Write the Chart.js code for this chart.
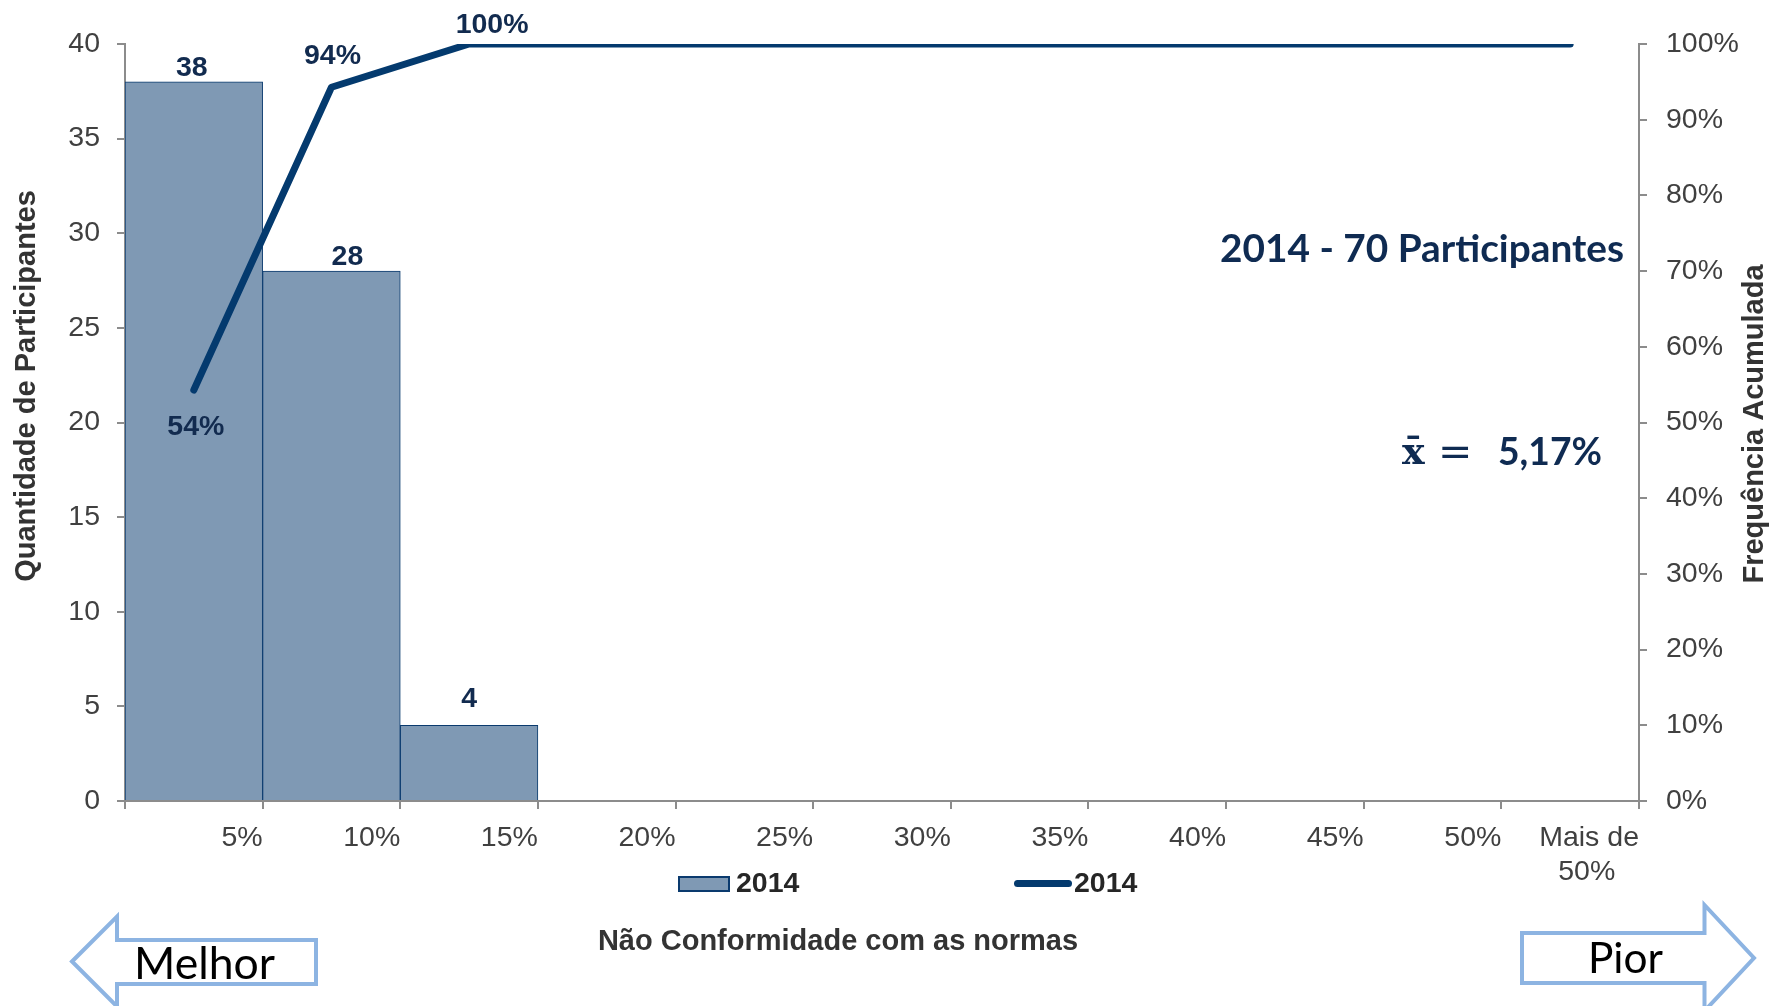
<!DOCTYPE html>
<html>
<head>
<meta charset="utf-8">
<script src="https://cdn.jsdelivr.net/npm/chart.js@4.4.1/dist/chart.umd.min.js"></script>
<style>
  html, body { margin: 0; padding: 0; background: #fff; }
  canvas { display: block; }
</style>
</head>
<body>
<canvas id="histChart" width="1781" height="1006"></canvas>
<script>
// bins of non-conformity (upper bound of each class)
const binLabels = ['5%', '10%', '15%', '20%', '25%', '30%', '35%', '40%', '45%', '50%', ['Mais de', '50%   ']];
const counts = [38, 28, 4, 0, 0, 0, 0, 0, 0, 0, 0];
const cumulative = [54.29, 94.29, 100, 100, 100, 100, 100, 100, 100, 100, 100];
const seriesName = '2014';

// label nudges (px) as Excel placed them
const barLabelShift = [[-2, -6], [16, -6], [0, -18]];
const lineLabelShift = [[2, 45], [1, -23], [23, -11]];

const SANS = "'Liberation Sans', Arial, sans-serif";
const CAL = "Lato, 'Open Sans', sans-serif";
const navy = '#0a3a6e';
const labelNavy = '#122b4f';
const axisGray = '#8c8c8c';
const tickFont = { family: SANS, size: 28.5 };

function fitSize(ctx, text, weight, family, width) {
  ctx.font = weight + ' 100px ' + family;
  return 100 * width / ctx.measureText(text).width;
}

function drawArrow(ctx, pts) {
  ctx.beginPath();
  pts.forEach(([x, y], i) => i ? ctx.lineTo(x, y) : ctx.moveTo(x, y));
  ctx.closePath();
  ctx.fillStyle = '#fff';
  ctx.fill();
  ctx.stroke();
}

const extras = {
  id: 'extras',
  afterDatasetsDraw(chart) {
    const ctx = chart.ctx;
    ctx.save();
    ctx.font = 'bold 28.5px ' + SANS;
    ctx.fillStyle = labelNavy;
    ctx.textAlign = 'center';
    ctx.textBaseline = 'alphabetic';
    const bars = chart.getDatasetMeta(0).data;
    counts.forEach((v, i) => {
      if (!v) return;
      const [dx, dy] = barLabelShift[i];
      ctx.fillText(String(v), bars[i].x + dx, bars[i].y + dy);
    });
    const pts = chart.getDatasetMeta(1).data;
    lineLabelShift.forEach(([dx, dy], i) => {
      ctx.fillText(Math.round(cumulative[i]) + '%', pts[i].x + dx, pts[i].y + dy);
    });
    ctx.restore();
  },
  afterDraw(chart) {
    const ctx = chart.ctx;
    const ds = chart.data.datasets;
    ctx.save();

    // axis titles
    ctx.font = 'bold 29px ' + SANS;
    ctx.fillStyle = '#333';
    ctx.textAlign = 'center';
    ctx.save();
    ctx.translate(34.5, 386);
    ctx.rotate(-Math.PI / 2);
    ctx.fillText('Quantidade de Participantes', 0, 0);
    ctx.restore();
    ctx.save();
    ctx.translate(1763, 424);
    ctx.rotate(-Math.PI / 2);
    ctx.fillText('Frequência Acumulada', 0, 0);
    ctx.restore();
    ctx.fillText('Não Conformidade com as normas', 838, 950);

    // legend
    ctx.fillStyle = ds[0].backgroundColor;
    ctx.fillRect(679, 877, 50, 14);
    ctx.strokeStyle = ds[0].borderColor;
    ctx.lineWidth = 2;
    ctx.strokeRect(679, 877, 50, 14);
    ctx.strokeStyle = ds[1].borderColor;
    ctx.lineWidth = 7;
    ctx.lineCap = 'round';
    ctx.beginPath();
    ctx.moveTo(1017.5, 883.5);
    ctx.lineTo(1068.5, 883.5);
    ctx.stroke();
    ctx.fillStyle = '#262626';
    ctx.font = 'bold 28.5px ' + SANS;
    ctx.textAlign = 'left';
    ctx.fillText(ds[0].label, 736, 891.5);
    ctx.fillText(ds[1].label, 1074, 891.5);

    // notes
    ctx.fillStyle = '#0f2b52';
    ctx.textAlign = 'right';
    let s = fitSize(ctx, '2014 - 70 Participantes', 'bold', CAL, 404);
    ctx.font = 'bold ' + s + 'px ' + CAL;
    ctx.fillText('2014 - 70 Participantes', 1624, 262);
    ctx.textAlign = 'left';
    ctx.font = "bold 38px 'DejaVu Serif'";
    ctx.fillText('x\u0304', 1402, 464);
    ctx.font = "41px 'DejaVu Serif'";
    ctx.fillText('=', 1438, 465);
    s = fitSize(ctx, '5,17%', 'bold', CAL, 104);
    ctx.font = 'bold ' + s + 'px ' + CAL;
    ctx.fillText('5,17%', 1498, 465);

    // Melhor / Pior arrows
    ctx.strokeStyle = '#8db4e2';
    ctx.lineWidth = 4;
    ctx.lineCap = 'butt';
    ctx.lineJoin = 'miter';
    drawArrow(ctx, [[72, 961.5], [117, 916.5], [117, 940], [316, 940], [316, 984], [117, 984], [117, 1006.5]]);
    drawArrow(ctx, [[1522, 933], [1704.5, 933], [1704.5, 905], [1754, 958], [1704.5, 1011], [1704.5, 983], [1522, 983]]);
    ctx.fillStyle = '#000';
    s = fitSize(ctx, 'Melhor', 'normal', CAL, 141);
    ctx.font = s + 'px ' + CAL;
    ctx.fillText('Melhor', 134, 979);
    s = fitSize(ctx, 'Pior', 'normal', CAL, 75);
    ctx.font = s + 'px ' + CAL;
    ctx.fillText('Pior', 1588, 973);

    ctx.restore();
  }
};

new Chart(document.getElementById('histChart'), {
  type: 'bar',
  data: {
    labels: binLabels,
    datasets: [{
      type: 'bar',
      label: seriesName,
      data: counts,
      yAxisID: 'y',
      backgroundColor: '#7f99b4',
      borderColor: navy,
      borderWidth: 1,
      barPercentage: 1,
      categoryPercentage: 1,
      order: 2
    }, {
      type: 'line',
      label: seriesName,
      data: cumulative,
      yAxisID: 'y1',
      borderColor: '#043a6e',
      borderWidth: 7,
      pointRadius: 0,
      borderCapStyle: 'round',
      borderJoinStyle: 'round',
      tension: 0,
      clip: 0,
      order: 1
    }]
  },
  options: {
    responsive: false,
    animation: false,
    devicePixelRatio: 1,
    layout: { padding: { top: 44, left: 0, right: 0, bottom: 0 } },
    plugins: {
      legend: { display: false },
      tooltip: { enabled: false },
      title: { display: false }
    },
    scales: {
      x: {
        grid: { offset: true, drawOnChartArea: false, color: axisGray, lineWidth: 2, tickLength: 8 },
        border: { color: axisGray, width: 2 },
        ticks: { color: '#404040', font: tickFont, align: 'end', labelOffset: 68.8, padding: 12, maxRotation: 0, autoSkip: false },
        afterFit: (scale) => { scale.height = 205; }
      },
      y: {
        position: 'left',
        min: 0,
        max: 40,
        grid: { drawOnChartArea: false, color: axisGray, lineWidth: 2, tickLength: 8 },
        border: { color: axisGray, width: 2 },
        ticks: { stepSize: 5, color: '#404040', font: tickFont, padding: 17 },
        afterFit: (scale) => { scale.width = 125; }
      },
      y1: {
        position: 'right',
        min: 0,
        max: 100,
        grid: { drawOnChartArea: false, color: axisGray, lineWidth: 2, tickLength: 8 },
        border: { color: axisGray, width: 2 },
        ticks: { stepSize: 10, color: '#404040', font: tickFont, padding: 19, callback: (v) => v + '%' },
        afterFit: (scale) => { scale.width = 142; }
      }
    }
  },
  plugins: [extras]
});
</script>
</body>
</html>
